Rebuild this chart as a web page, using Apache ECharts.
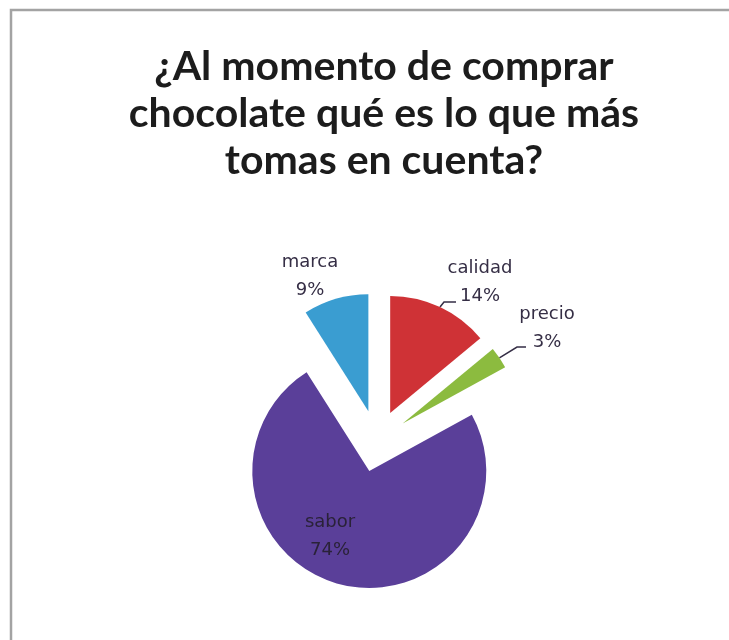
<!DOCTYPE html>
<html>
<head>
<meta charset="utf-8">
<script src="https://cdn.jsdelivr.net/npm/echarts@6/dist/echarts.min.js"></script>
<style>
  html, body { margin: 0; padding: 0; background: #ffffff; }
  #chart { width: 729px; height: 640px; }
</style>
</head>
<body>
<div id="chart"></div>
<script>
// Survey answers, clockwise from 12 o'clock
const categories = ['calidad', 'precio', 'sabor', 'marca'];
const shares = [14, 3, 74, 9];
const sliceColors = ['#cf3236', '#8cbb3f', '#5a3f99', '#3a9dd1'];

// Where each label sits (centre of first line) and how its leader line bends
const labelSpots = {
  calidad: { x: 480, y: 268, line: [[444, 302], [456, 302]] },
  precio:  { x: 547, y: 314, line: [[517, 347], [526, 347]] },
  marca:   { x: 310, y: 262 },
  sabor:   { x: 330, y: 522 }
};

const pieCenter = [377, 441];
const pieRadius = 117;
const explode = 31;

const chart = echarts.init(document.getElementById('chart'), null, { renderer: 'canvas' });

const total = shares.reduce((a, b) => a + b, 0);

// One pie layer per slice: every layer carries the full data so the angles
// line up, but only its own slice is painted, pushed out along its bisector.
let cumulative = 0;
const layers = categories.map((name, k) => {
  const mid = (cumulative + shares[k] / 2) / total * 2 * Math.PI;
  cumulative += shares[k];
  const cx = pieCenter[0] + explode * Math.sin(mid);
  const cy = pieCenter[1] - explode * Math.cos(mid);
  const spot = labelSpots[name];
  return {
    type: 'pie',
    name: name,
    center: [cx, cy],
    radius: pieRadius,
    startAngle: 90,
    clockwise: true,
    silent: true,
    emphasis: { disabled: true },
    data: categories.map((n, i) => ({
      name: n,
      value: shares[i],
      itemStyle: { color: i === k ? sliceColors[i] : 'rgba(0,0,0,0)' },
      label: { show: i === k },
      labelLine: { show: i === k && !!spot.line }
    })),
    label: {
      position: name === 'sabor' ? 'inside' : 'outside',
      formatter: '{b}\n{d}%',
      fontFamily: 'DejaVu Sans',
      fontSize: 18,
      lineHeight: 28,
      color: name === 'sabor' ? '#2a2238' : '#352e45',
      align: 'center'
    },
    labelLine: {
      length: 8,
      length2: 10,
      lineStyle: { color: '#352e45', width: 1.5 }
    },
    labelLayout: function (params) {
      if (params.dataIndex !== k) return {};
      const out = { x: spot.x, y: spot.y - 14, align: 'center', verticalAlign: 'top' };
      if (spot.line && params.labelLinePoints) {
        out.labelLinePoints = [params.labelLinePoints[0]].concat(spot.line);
      }
      return out;
    }
  };
});

chart.setOption({
  backgroundColor: '#ffffff',
  animation: false,
  title: {
    text: '¿Al momento de comprar\nchocolate qué es lo que más\ntomas en cuenta?',
    left: 379,
    top: 38,
    textAlign: 'center',
    textStyle: {
      fontFamily: 'Lato',
      fontWeight: 'bold',
      fontSize: 41,
      lineHeight: 47,
      color: '#1c1c1c'
    }
  },
  graphic: [{
    type: 'rect',
    shape: { x: 11, y: 10, width: 760, height: 680 },
    style: { fill: 'none', stroke: '#a3a3a3', lineWidth: 2.5 },
    silent: true
  }],
  series: layers
});
</script>
</body>
</html>
